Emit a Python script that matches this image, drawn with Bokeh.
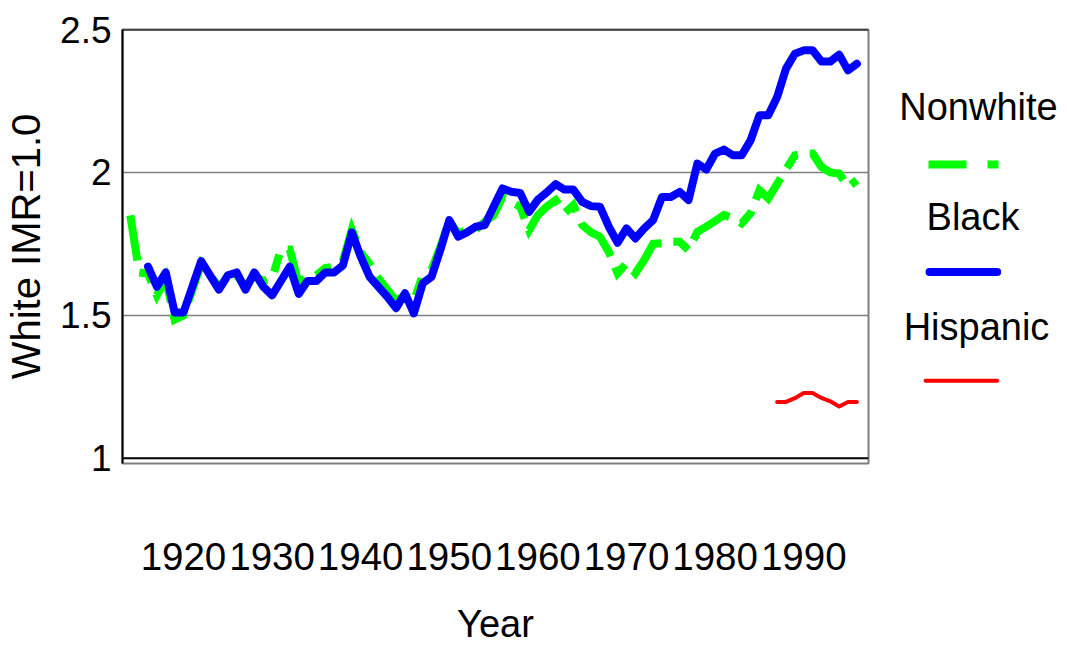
from bokeh.plotting import figure
from bokeh.models import Range1d, FixedTicker, Span
from bokeh.layouts import row
from bokeh.embed import file_html
from bokeh.resources import INLINE
from bokeh.core.properties import value

# ---------------- data ----------------
years_nonwhite = list(range(1914, 1997))
nonwhite = [
    1.85, 1.65, 1.645, 1.57, 1.63, 1.485, 1.50, 1.59, 1.68, 1.64,   # 1914-1923
    1.60, 1.63, 1.64, 1.60, 1.64, 1.62, 1.63, 1.73, 1.73, 1.61,     # 1924-1933
    1.64, 1.64, 1.665, 1.67, 1.69, 1.80, 1.72, 1.68, 1.63, 1.59,    # 1934-1943
    1.55, 1.57, 1.55, 1.64, 1.66, 1.74, 1.83, 1.785, 1.80, 1.80,    # 1944-1953
    1.827, 1.85, 1.914, 1.897, 1.88, 1.798, 1.851, 1.88, 1.903, 1.857,  # 1954-1963
    1.885, 1.816, 1.79, 1.775, 1.722, 1.647, 1.682, 1.647, 1.694, 1.75,  # 1964-1973
    1.752, 1.757, 1.757, 1.728, 1.792, 1.81, 1.83, 1.851, 1.84, 1.822,   # 1974-1983
    1.857, 1.938, 1.909, 1.96, 2.01, 2.06, 2.066, 2.066, 2.019, 2.00,    # 1984-1993
    1.996, 1.949, 1.973,                                                  # 1994-1996
]

years_black = list(range(1916, 1997))
black = [
    1.67, 1.60, 1.65, 1.51, 1.51, 1.60, 1.69, 1.64,                 # 1916-1923
    1.59, 1.64, 1.65, 1.59, 1.65, 1.60, 1.57, 1.62, 1.67, 1.575,    # 1924-1933
    1.62, 1.62, 1.65, 1.65, 1.675, 1.79, 1.705, 1.635, 1.60, 1.565, # 1934-1943
    1.525, 1.577, 1.507, 1.612, 1.635, 1.73, 1.833, 1.775, 1.79, 1.81,  # 1944-1953
    1.816, 1.88, 1.944, 1.932, 1.928, 1.862, 1.905, 1.93, 1.959, 1.94,  # 1954-1963
    1.94, 1.897, 1.882, 1.88, 1.81, 1.754, 1.804, 1.769, 1.804, 1.833,  # 1964-1973
    1.914, 1.914, 1.932, 1.903, 2.031, 2.010, 2.066, 2.080, 2.060, 2.060,  # 1974-1983
    2.112, 2.20, 2.20, 2.264, 2.363, 2.415, 2.427, 2.427, 2.388, 2.388,    # 1984-1993
    2.412, 2.357, 2.380,                                                    # 1994-1996
]

years_hispanic = list(range(1987, 1997))
hispanic = [1.197, 1.197, 1.21, 1.228, 1.228, 1.211, 1.199, 1.181, 1.197, 1.197]

x_ticks = [1920, 1930, 1940, 1950, 1960, 1970, 1980, 1990]
y_ticks = [1, 1.5, 2, 2.5]
y_tick_labels = ["1", "1.5", "2", "2.5"]
series_names = ["Nonwhite", "Black", "Hispanic"]
series_colors = ["#00ff00", "#0000ff", "#ff0000"]
x_title = "Year"
y_title = "White IMR=1.0"

FONT = "Liberation Sans"

# ---------------- main chart ----------------
p = figure(width=872, height=647,
           x_range=Range1d(1913.12, 1997.31), y_range=Range1d(0.9815, 2.5),
           output_backend="svg", toolbar_location=None,
           min_border_left=122, min_border_right=4,
           min_border_top=29, min_border_bottom=183)
p.background_fill_color = "white"
p.border_fill_color = "white"
p.outline_line_color = "#7f7f7f"
p.outline_line_width = 2

p.xgrid.visible = False
p.ygrid.ticker = FixedTicker(ticks=[1.5, 2])
p.ygrid.grid_line_color = "#808080"
p.ygrid.grid_line_width = 1.5

p.add_layout(Span(location=1.0, dimension="width", line_color="black", line_width=2))
p.add_layout(Span(location=2.5, dimension="width", line_color="black", line_width=2))

xa = p.xaxis[0]
xa.ticker = FixedTicker(ticks=x_ticks)
xa.major_tick_line_color = None
xa.minor_tick_line_color = None
xa.axis_line_color = None
xa.major_label_standoff = 73
xa.major_label_text_font = FONT
xa.major_label_text_font_size = "38.5px"
xa.major_label_text_color = "black"
xa.axis_label = x_title
xa.axis_label_text_font = FONT
xa.axis_label_text_font_size = "38px"
xa.axis_label_text_font_style = "normal"
xa.axis_label_text_color = "black"
xa.axis_label_standoff = 30

ya = p.yaxis[0]
ya.ticker = FixedTicker(ticks=y_ticks)
ya.major_label_overrides = {t: s for t, s in zip(y_ticks, y_tick_labels)}
ya.major_tick_line_color = None
ya.minor_tick_line_color = None
ya.axis_line_color = "black"
ya.axis_line_width = 2
ya.major_label_standoff = 5
ya.major_label_text_font = FONT
ya.major_label_text_font_size = "37px"
ya.major_label_text_color = "black"
ya.axis_label = y_title
ya.axis_label_text_font = FONT
ya.axis_label_text_font_size = "40px"
ya.axis_label_text_font_style = "normal"
ya.axis_label_text_color = "black"
ya.axis_label_standoff = 9

p.line(years_nonwhite, nonwhite, line_color=series_colors[0], line_width=8,
       line_dash="46 12 18 12", line_cap="butt", line_join="miter")
p.line(years_black, black, line_color=series_colors[1], line_width=8,
       line_cap="round", line_join="round")
p.line(years_hispanic, hispanic, line_color=series_colors[2], line_width=4,
       line_cap="round", line_join="round")

# ---------------- legend panel (frame aligned with the chart frame) ----------------
lg = figure(width=195, height=647, x_range=Range1d(0, 195), y_range=Range1d(464, 29),
            output_backend="svg", toolbar_location=None, min_border=0)
lg.axis.visible = False
lg.grid.visible = False
lg.outline_line_color = None
lg.background_fill_color = "white"
lg.border_fill_color = "white"

label_x = [106, 100.5, 104]
label_y = [107, 217, 327]
lg.text(x=label_x, y=label_y, text=series_names, text_font=value(FONT),
        text_font_size="38px", text_align="center", text_baseline="middle",
        text_color="black")
lg.line([56, 126], [164.3, 164.3], line_color=series_colors[0], line_width=8,
        line_dash="38 21 11 21", line_cap="butt")
lg.line([57, 124.7], [272, 272], line_color=series_colors[1], line_width=8,
        line_cap="round")
lg.line([53, 124.7], [381, 381], line_color=series_colors[2], line_width=4,
        line_cap="round")

layout = row(p, lg)
open("out.html", "w").write(file_html(layout, INLINE))
